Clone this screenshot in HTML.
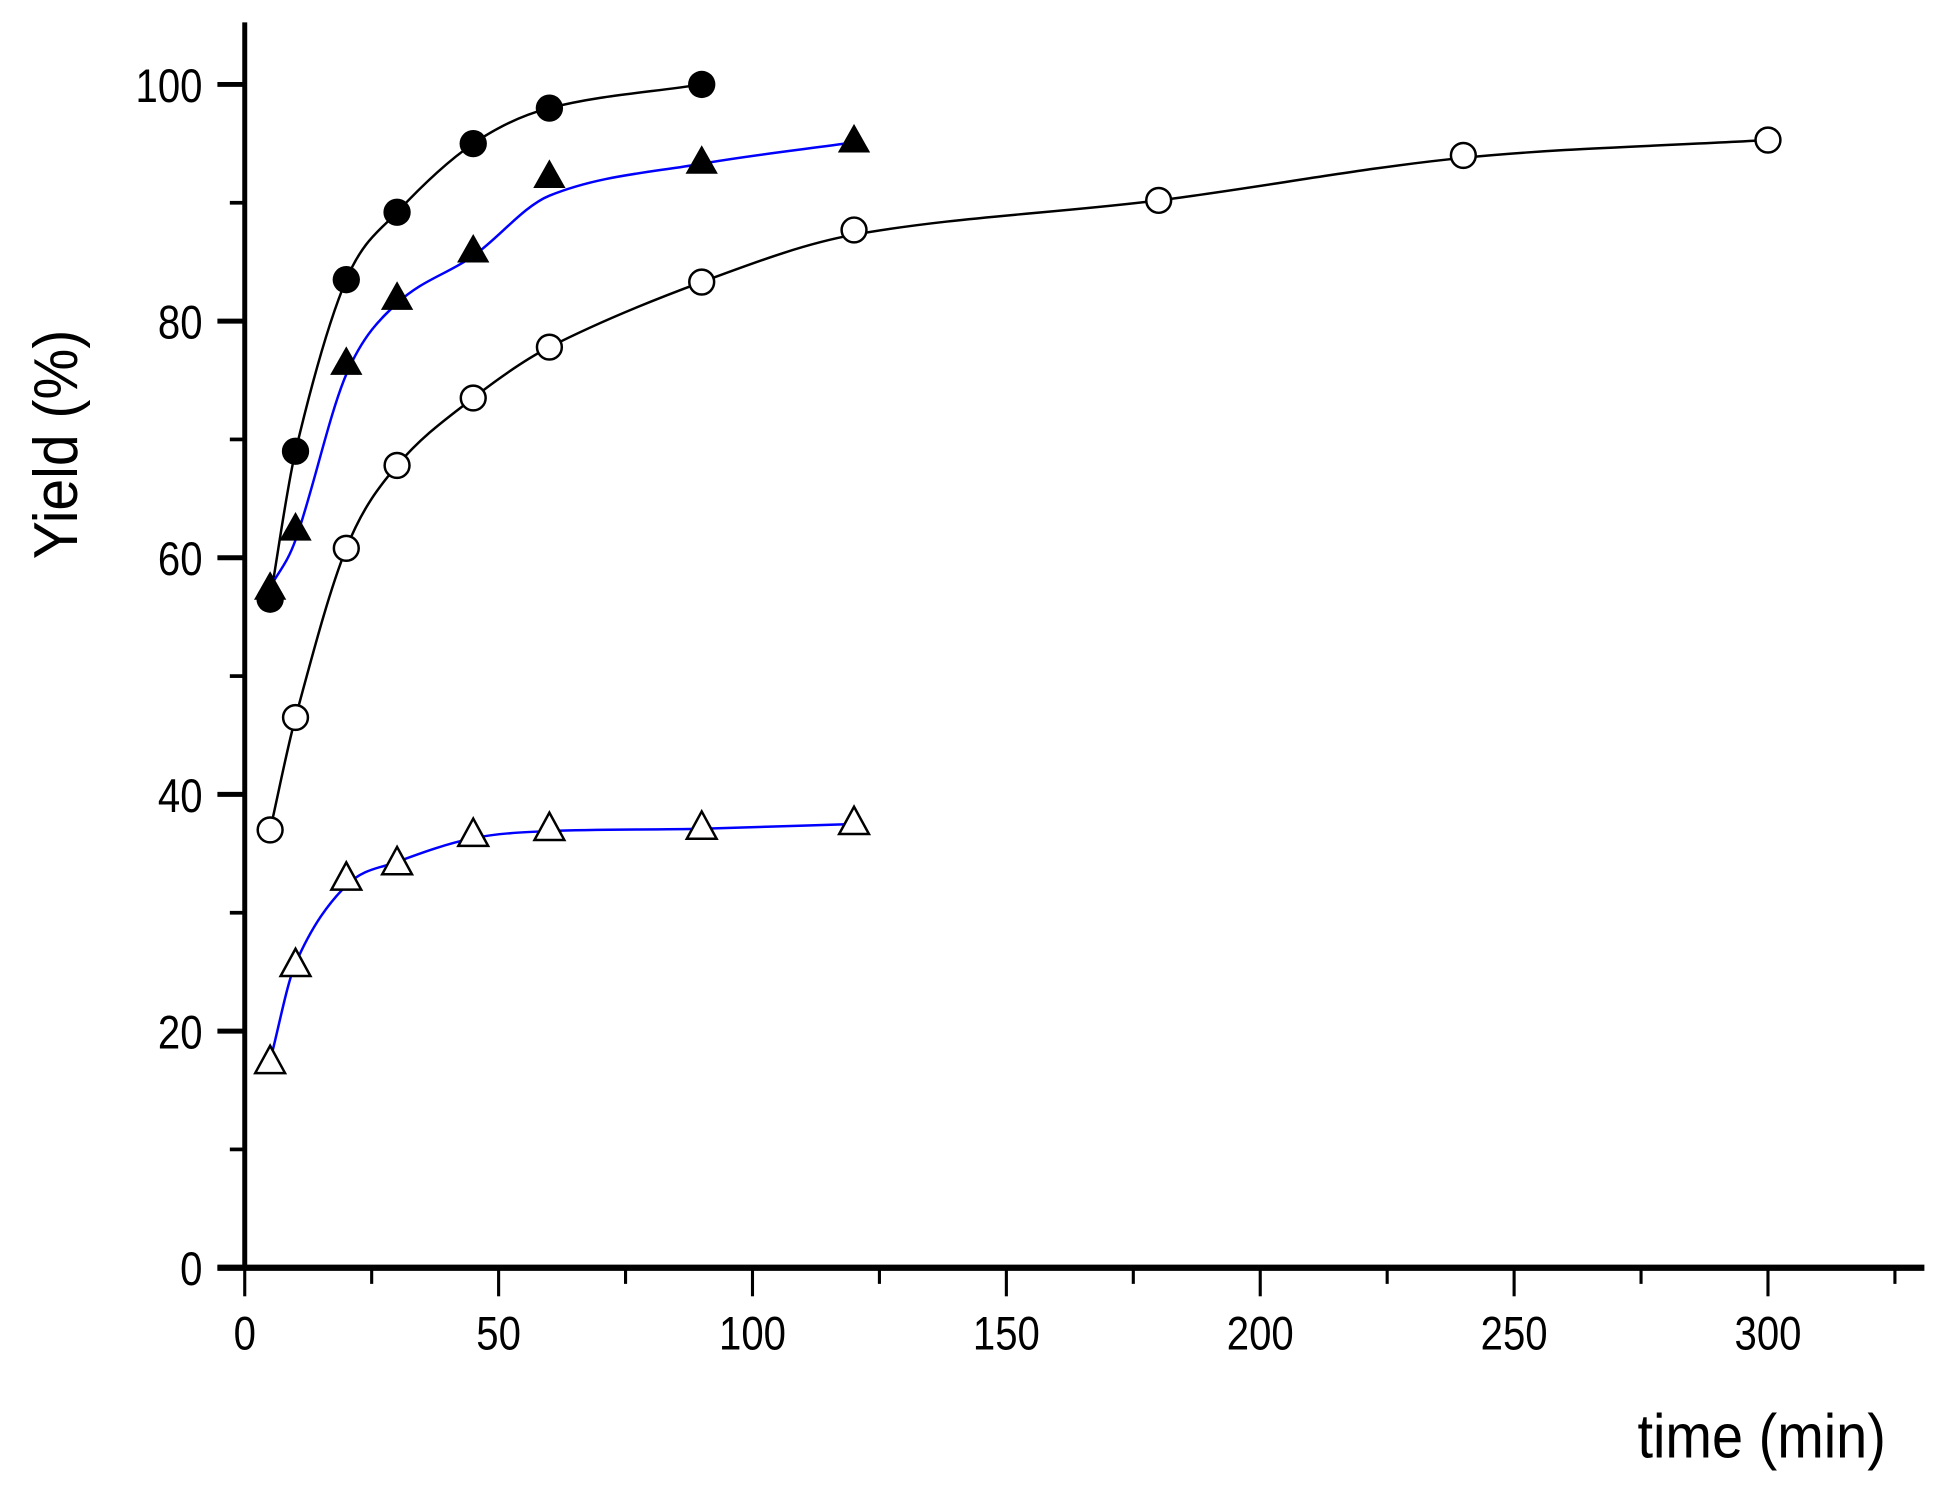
<!DOCTYPE html>
<html><head><meta charset="utf-8"><style>html,body{margin:0;padding:0;background:#fff}svg{display:block}</style></head>
<body>
<svg id="s" width="1948" height="1490" viewBox="0 0 1568 1200" preserveAspectRatio="none" xmlns="http://www.w3.org/2000/svg" font-family="Liberation Sans, Arial, sans-serif">
<rect width="1568" height="1200" fill="#fff"/>
<g id="axes" stroke="#000" fill="none"></g>
<g id="curves" fill="none" stroke-width="2"></g>
<g id="marks"></g>
<g id="labels" font-size="38" fill="#000"></g>
<text transform="translate(1518,1174) scale(0.9,1)" font-size="50" text-anchor="end">time (min)</text>
<text transform="translate(62,358) rotate(-90) scale(0.92,1)" font-size="50" text-anchor="middle">Yield (%)</text>
</svg>
<script>
var X0=197,Y0=1021,SX=4.087,SY=9.53;
function px(t){return X0+t*SX} function py(v){return Y0-v*SY}
var ns="http://www.w3.org/2000/svg";
function el(p,tag,a){var e=document.createElementNS(ns,tag);for(var k in a)e.setAttribute(k,a[k]);document.getElementById(p).appendChild(e);return e}
el("axes","line",{x1:197,y1:18,x2:197,y2:1023,"stroke-width":4});
el("axes","line",{x1:175,y1:1021,x2:1549,y2:1021,"stroke-width":5});
for(var v=0;v<=100;v+=10){var maj=v%20==0;el("axes","line",{x1:maj?175:185,y1:py(v),x2:197,y2:py(v),"stroke-width":maj?4:3});
 if(maj){var t=el("labels","text",{transform:"translate(163,"+(py(v)+14)+") scale(0.85,1)","text-anchor":"end"});t.textContent=v;}}
for(var t=0;t<=325;t+=25){var maj=t%50==0;el("axes","line",{x1:px(t),y1:1021,x2:px(t),y2:maj?1044:1034,"stroke-width":2.5});
 if(maj){var q=el("labels","text",{transform:"translate("+px(t)+",1087) scale(0.85,1)","text-anchor":"middle"});q.textContent=t;}}
var series=[
 {d:[[5,56.5],[10,69],[20,83.5],[30,89.2],[45,95],[60,98],[90,100]],c:"#000",m:"fc"},
 {d:[[5,57.5],[10,61.5],[20,75.5],[30,81.5],[45,85.5],[60,90.6],[90,93.3],[120,95.1]],pts:[[5,57.5],[10,62.5],[20,76.5],[30,82],[45,86],[60,92.3],[90,93.5],[120,95.3]],c:"#0000ff",m:"ft"},
 {d:[[5,37],[10,46.5],[20,60.8],[30,67.8],[45,73.5],[60,77.8],[90,83.3],[120,87.3],[180,90.2],[240,93.8],[300,95.3]],pts:[[5,37],[10,46.5],[20,60.8],[30,67.8],[45,73.5],[60,77.8],[90,83.3],[120,87.7],[180,90.2],[240,94],[300,95.3]],c:"#000",m:"oc"},
 {d:[[5,17.5],[10,25.7],[20,32.3],[30,34.3],[45,36.3],[60,36.9],[90,37.1],[120,37.5]],pts:[[5,17.5],[10,25.7],[20,33],[30,34.3],[45,36.7],[60,37.2],[90,37.3],[120,37.7]],c:"#0000ff",m:"ot"}];
series.forEach(function(s){
 var P=s.d.map(function(p){return [px(p[0]),py(p[1])]});
 var n=P.length,m=[];
 for(var i=0;i<n;i++){var a=P[i>0?i-1:i],b=P[i<n-1?i+1:i];m.push((b[1]-a[1])/(b[0]-a[0]));}
 var d="M"+P[0][0]+","+P[0][1];
 for(var i=0;i<n-1;i++){var h=(P[i+1][0]-P[i][0])/3;
  d+=" C"+(P[i][0]+h)+","+(P[i][1]+m[i]*h)+" "+(P[i+1][0]-h)+","+(P[i+1][1]-m[i+1]*h)+" "+P[i+1][0]+","+P[i+1][1];}
 el("curves","path",{d:d,stroke:s.c});
 (s.pts||s.d).forEach(function(p){var x=px(p[0]),y=py(p[1]);
  if(s.m=="fc")el("marks","circle",{cx:x,cy:y,r:11,fill:"#000"});
  if(s.m=="oc")el("marks","circle",{cx:x,cy:y,r:10,fill:"#fff",stroke:"#000","stroke-width":2});
  if(s.m=="ft")el("marks","polygon",{points:(x-13)+","+(y+10)+" "+(x+13)+","+(y+10)+" "+x+","+(y-13),fill:"#000"});
  if(s.m=="ot")el("marks","polygon",{points:(x-12)+","+(y+10)+" "+(x+12)+","+(y+10)+" "+x+","+(y-12),fill:"#fff",stroke:"#000","stroke-width":2});
 });
});
</script>
</body></html>
